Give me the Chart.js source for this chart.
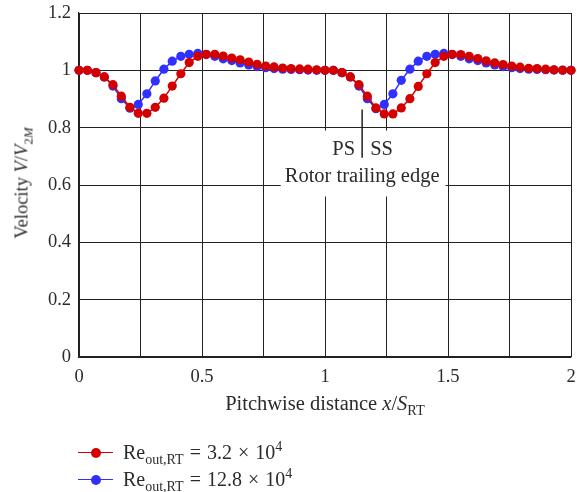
<!DOCTYPE html>
<html>
<head>
<meta charset="utf-8">
<script src="https://cdn.jsdelivr.net/npm/chart.js@4.4.1/dist/chart.umd.min.js"></script>
<style>
  body { margin:0; background:#fff; }
  #wrap { position:relative; width:577px; height:492px; font-family:'Liberation Serif', serif; color:#2b2b2b; }
  canvas { position:absolute; left:0; top:0; }
  .ytitle { position:absolute; left:22px; top:183px; transform:translate(-50%,-50%) rotate(-90deg); white-space:nowrap; font-size:18.5px; }
  .xtitle { position:absolute; left:325px; top:392px; transform:translateX(-50%); white-space:nowrap; font-size:20.5px; }
  sub, sup { font-size:70%; line-height:0; }
  #legend { position:absolute; left:78px; top:439px; font-size:20px; }
  .row { height:27.3px; display:flex; align-items:center; white-space:nowrap; }
  .sw { position:relative; width:35px; height:12px; margin-right:10px; }
  .sw .ln { position:absolute; left:0; right:0; top:5px; height:1.5px; }
  .sw .dot { position:absolute; left:13px; top:1px; width:10px; height:10px; border-radius:50%; }
  .op { margin:0 0.3em; }
</style>
</head>
<body>
<div id="wrap">
  <canvas id="chart" width="577" height="492"></canvas>
  <div class="ytitle">Velocity <i>V</i>/<i>V</i><sub>2<i>M</i></sub></div>
  <div class="xtitle">Pitchwise distance <i>x</i>/<i>S</i><sub>RT</sub></div>
  <div id="legend"></div>
</div>
<script>
// pitchwise positions x/S_RT
const pitch = [0, 0.034, 0.069, 0.103, 0.138, 0.172, 0.207, 0.241, 0.276, 0.310,
  0.345, 0.379, 0.414, 0.448, 0.483, 0.517, 0.552, 0.586, 0.621, 0.655,
  0.690, 0.724, 0.759, 0.793, 0.828, 0.862, 0.897, 0.931, 0.966, 1.000,
  1.034, 1.069, 1.103, 1.138, 1.172, 1.207, 1.241, 1.276, 1.310, 1.345,
  1.379, 1.414, 1.448, 1.483, 1.517, 1.552, 1.586, 1.621, 1.655, 1.690,
  1.724, 1.759, 1.793, 1.828, 1.862, 1.897, 1.931, 1.966, 2.000];

// Re = 3.2e4
const velLowRe = [1.000, 1.000, 0.992, 0.977, 0.950, 0.910, 0.871, 0.850, 0.850, 0.871,
  0.903, 0.945, 0.988, 1.027, 1.049, 1.056, 1.056, 1.050, 1.043, 1.037,
  1.029, 1.021, 1.015, 1.012, 1.008, 1.006, 1.005, 1.004, 1.002, 1.000,
  1.000, 0.992, 0.977, 0.950, 0.910, 0.869, 0.848, 0.848, 0.869, 0.901,
  0.944, 0.988, 1.027, 1.049, 1.056, 1.055, 1.049, 1.041, 1.033, 1.026,
  1.020, 1.015, 1.011, 1.007, 1.006, 1.004, 1.002, 1.001, 1.000];

// Re = 12.8e4
const velHighRe = [1.000, 1.000, 0.992, 0.977, 0.945, 0.901, 0.868, 0.881, 0.918, 0.963,
  1.004, 1.032, 1.049, 1.056, 1.059, 1.055, 1.049, 1.040, 1.034, 1.026,
  1.019, 1.013, 1.009, 1.006, 1.004, 1.003, 1.002, 1.001, 1.000, 1.000,
  1.000, 0.992, 0.977, 0.945, 0.901, 0.866, 0.881, 0.918, 0.965, 1.004,
  1.032, 1.049, 1.056, 1.059, 1.055, 1.049, 1.040, 1.034, 1.026, 1.019,
  1.013, 1.009, 1.006, 1.004, 1.003, 1.002, 1.001, 1.000, 1.000];

const seriesNames = ['Re<sub>out,RT</sub><span class="op">=</span>3.2<span class="op">×</span>10<sup>4</sup>',
                     'Re<sub>out,RT</sub><span class="op">=</span>12.8<span class="op">×</span>10<sup>4</sup>'];
const seriesColors = ['#d40000', '#3030ff'];

const FONT = 'Liberation Serif';
const INK = '#2b2b2b';

// white box + "PS | SS / Rotor trailing edge" note
const notes = {
  id: 'notes',
  beforeDatasetsDraw(chart) {
    const { ctx, scales: { x, y } } = chart;
    ctx.save();
    const l = x.getPixelForValue(0.82), r = x.getPixelForValue(1.49);
    const t = y.getPixelForValue(0.79), b = y.getPixelForValue(0.56);
    ctx.fillStyle = '#fff';
    ctx.fillRect(l, t, r - l, b - t);
    const dx = x.getPixelForValue(1.151);
    ctx.strokeStyle = '#222'; ctx.lineWidth = 1.5;
    ctx.beginPath();
    ctx.moveTo(dx, y.getPixelForValue(0.863));
    ctx.lineTo(dx, y.getPixelForValue(0.695));
    ctx.stroke();
    ctx.font = '20.5px "' + FONT + '"';
    ctx.fillStyle = INK;
    ctx.textAlign = 'right'; ctx.fillText('PS', dx - 7, y.getPixelForValue(0.705));
    ctx.textAlign = 'left';  ctx.fillText('SS', dx + 8, y.getPixelForValue(0.705));
    ctx.textAlign = 'center'; ctx.fillText('Rotor trailing edge', dx, y.getPixelForValue(0.611));
    ctx.restore();
  }
};

const mk = (vals) => pitch.map((p, i) => ({ x: p, y: vals[i] }));

const chart = new Chart(document.getElementById('chart'), {
  type: 'line',
  data: {
    datasets: [velLowRe, velHighRe].map((v, i) => ({
      data: mk(v),
      borderColor: seriesColors[i], backgroundColor: seriesColors[i],
      borderWidth: 1.5, pointRadius: 4.6, pointBorderWidth: 0,
      tension: 0, clip: false
    }))
  },
  options: {
    responsive: false, animation: false, devicePixelRatio: 1,
    layout: { padding: { top: 13, right: 6, bottom: 105, left: 0 } },
    plugins: { legend: { display: false }, tooltip: { enabled: false } },
    scales: {
      x: {
        type: 'linear', min: 0, max: 2,
        ticks: { stepSize: 0.25, padding: 9, color: INK, font: { family: FONT, size: 18.5 },
                 maxRotation: 0, autoSkip: false,
                 callback: v => ((v * 2) % 1 === 0 ? String(v) : '') },
        grid: { color: '#222', lineWidth: 1, drawTicks: false },
        border: { color: '#222', width: 1.2 },
        afterFit: s => { s.height = 30; s.paddingLeft = 0; s.paddingRight = 0; }
      },
      y: {
        min: 0, max: 1.2,
        ticks: { stepSize: 0.2, padding: 8, color: INK, font: { family: FONT, size: 18.5 },
                 callback: v => String(Number(v.toFixed(2))) },
        grid: { color: '#222', lineWidth: 1, drawTicks: false },
        border: { color: '#222', width: 1.2 },
        afterFit: s => { s.width = 79; s.paddingTop = 0; s.paddingBottom = 0; }
      }
    }
  },
  plugins: [notes]
});

// html legend (needs sub/superscripts)
const leg = document.getElementById('legend');
chart.data.datasets.forEach((ds, i) => {
  const row = document.createElement('div');
  row.className = 'row';
  row.innerHTML = '<span class="sw"><span class="ln" style="background:' + ds.borderColor +
    '"></span><span class="dot" style="background:' + ds.borderColor + '"></span></span>' +
    '<span>' + seriesNames[i] + '</span>';
  leg.appendChild(row);
});
</script>
</body>
</html>
